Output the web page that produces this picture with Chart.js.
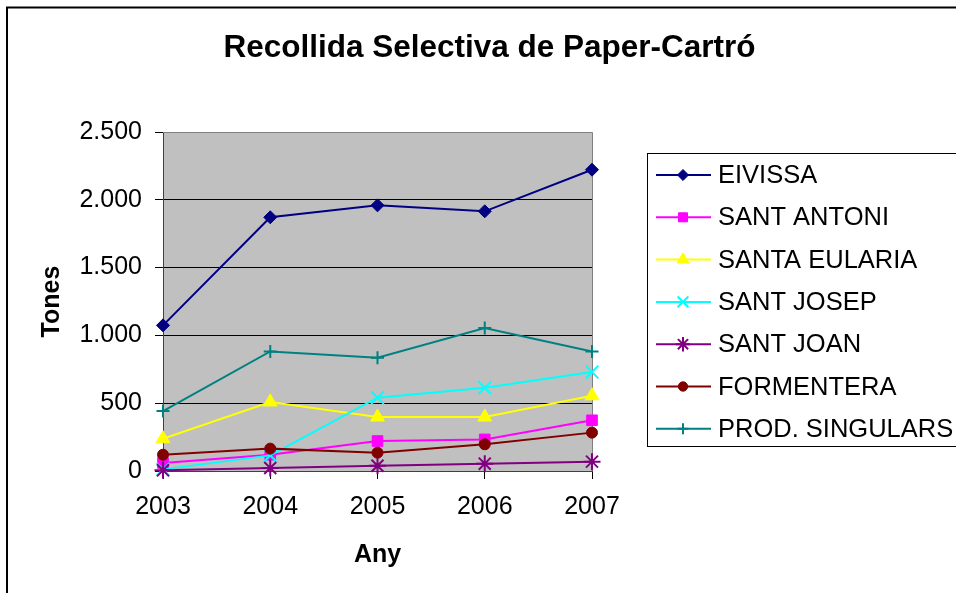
<!DOCTYPE html>
<html>
<head>
<meta charset="utf-8">
<script src="https://cdn.jsdelivr.net/npm/chart.js@4.4.0/dist/chart.umd.min.js"></script>
<style>
  html, body { margin: 0; padding: 0; background: #fff; }
  canvas { display: block; }
</style>
</head>
<body>
<canvas id="chart" width="956" height="593"></canvas>
<script>
// data (tones per year)
const years = ['2003', '2004', '2005', '2006', '2007'];
const eivissa = [1074, 1871, 1959, 1915, 2222];
const santAntoni = [59, 120, 221, 233, 374];
const santaEularia = [238, 509, 398, 398, 555];
const santJosep = [12, 115, 541, 614, 730];
const santJoan = [5, 22, 39, 54, 69];
const formentera = [120, 165, 135, 197, 283];
const prodSingulars = [442, 882, 836, 1054, 882];
const yTicks = [0, 500, 1000, 1500, 2000, 2500];

const FONT = "'Liberation Sans', Arial, sans-serif";
Chart.defaults.font.family = FONT;
Chart.defaults.color = '#000';

function serie(label, data, color, style, radius, filled) {
  return {
    label: label,
    data: data,
    borderColor: color,
    backgroundColor: color,
    borderWidth: 2,
    pointStyle: style,
    pointRadius: radius,
    pointHoverRadius: radius,
    pointBackgroundColor: color,
    pointBorderColor: color,
    pointBorderWidth: filled ? 1 : 2,
    fill: false,
    tension: 0,
    clip: false
  };
}

const datasets = [
  serie('EIVISSA', eivissa, '#000080', 'rectRot', 6.5, true),
  serie('SANT ANTONI', santAntoni, '#FF00FF', 'rect', 7.5, true),
  serie('SANTA EULARIA', santaEularia, '#FFFF00', 'triangle', 8, true),
  serie('SANT JOSEP', santJosep, '#00FFFF', 'crossRot', 9, false),
  serie('SANT JOAN', santJoan, '#800080', 'star', 8.5, false),
  serie('FORMENTERA', formentera, '#800000', 'circle', 5.5, true),
  serie('PROD. SINGULARS', prodSingulars, '#008080', 'cross', 6.5, false)
];
// excel draws later series on top
datasets.forEach((d, i) => { d.order = datasets.length - i; });

const decorPlugin = {
  id: 'decor',
  beforeDraw: (chart) => {
    const ctx = chart.ctx;
    const a = chart.chartArea;
    ctx.save();
    ctx.fillStyle = '#fff';
    ctx.fillRect(0, 0, chart.width, chart.height);
    ctx.fillStyle = '#C0C0C0';
    ctx.fillRect(a.left, a.top, a.right - a.left, a.bottom - a.top);
    ctx.restore();
  },
  beforeDatasetsDraw: (chart) => {
    const ctx = chart.ctx;
    const a = chart.chartArea;
    ctx.save();
    ctx.strokeStyle = '#808080';
    ctx.lineWidth = 1;
    ctx.beginPath();
    ctx.moveTo(a.left, a.top + 0.5);
    ctx.lineTo(a.right + 0.5, a.top + 0.5);
    ctx.lineTo(a.right + 0.5, a.bottom);
    ctx.stroke();
    ctx.restore();
  },
  afterDraw: (chart) => {
    const ctx = chart.ctx;
    ctx.save();
    // outer frame
    ctx.strokeStyle = '#000';
    ctx.lineWidth = 2;
    ctx.strokeRect(7, 7.5, 1000, 1000);

    // title
    ctx.fillStyle = '#000';
    ctx.font = 'bold 31.5px ' + FONT;
    ctx.textAlign = 'center';
    ctx.textBaseline = 'middle';
    ctx.fillText('Recollida Selectiva de Paper-Cartró', 489.5, 48);

    // legend
    ctx.lineWidth = 1;
    ctx.strokeStyle = '#000';
    ctx.strokeRect(647.5, 153.5, 400, 293);
    const h = Chart.helpers;
    chart.data.datasets.forEach((ds, i) => {
      const y = 175 + i * 42.3;
      ctx.strokeStyle = ds.borderColor;
      ctx.lineWidth = 2;
      ctx.beginPath();
      ctx.moveTo(656, y);
      ctx.lineTo(711, y);
      ctx.stroke();
      ctx.fillStyle = ds.backgroundColor;
      ctx.lineWidth = ds.pointBorderWidth;
      if (h && h.drawPoint) {
        h.drawPoint(ctx, { pointStyle: ds.pointStyle, radius: ds.pointRadius * 0.85, rotation: 0, borderWidth: ds.pointBorderWidth }, 683, y);
      } else {
        ctx.beginPath();
        ctx.arc(683, y, 5, 0, Math.PI * 2);
        ctx.fill();
      }
      ctx.fillStyle = '#000';
      ctx.font = '25.5px ' + FONT;
      ctx.textAlign = 'left';
      ctx.textBaseline = 'middle';
      ctx.fillText(ds.label, 718, y + 1);
    });
    ctx.restore();
  }
};

const ctx = document.getElementById('chart').getContext('2d');
const chart = new Chart(ctx, {
  type: 'line',
  data: { labels: years, datasets: datasets },
  options: {
    responsive: false,
    animation: false,
    layout: { padding: { left: 30, top: 132, right: 364, bottom: 22 } },
    plugins: {
      legend: { display: false },
      title: { display: false },
      tooltip: { enabled: false }
    },
    scales: {
      x: {
        type: 'category',
        offset: false,
        grid: { drawOnChartArea: false, drawTicks: true, tickLength: 8, color: '#000' },
        border: { color: '#404040', width: 1 },
        ticks: { font: { size: 25 }, padding: 13, maxRotation: 0, autoSkip: false },
        title: { display: true, text: 'Any', font: { size: 25, weight: 'bold' }, padding: { top: 0, bottom: 1 } },
        afterFit: (s) => { s.height = 100; }
      },
      y: {
        min: yTicks[0],
        max: yTicks[yTicks.length - 1],
        afterBuildTicks: (s) => { s.ticks = yTicks.map(v => ({ value: v })); },
        grid: {
          color: (c) => (c.tick && c.tick.value === 2500) ? '#808080' : '#000',
          tickColor: '#000',
          tickLength: 8
        },
        border: { color: '#404040', width: 1 },
        ticks: {
          font: { size: 25 },
          padding: 13,
          callback: (v) => String(v).replace(/\B(?=(\d{3})+(?!\d))/g, '.')
        },
        title: { display: true, text: 'Tones', font: { size: 25, weight: 'bold' }, padding: { top: 7, bottom: 0 } },
        afterFit: (s) => { s.width = 133; }
      }
    }
  },
  plugins: [decorPlugin]
});
</script>
</body>
</html>
